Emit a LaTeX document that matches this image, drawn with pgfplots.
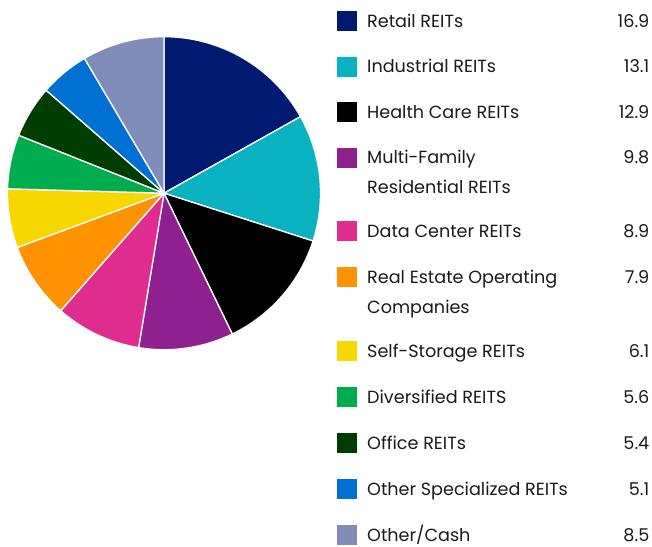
\documentclass[border=0pt]{standalone}
\usepackage{pgfplots}
\pgfplotsset{compat=1.18}
\usepackage{pgfplotstable}
\usepackage{fontspec}
\setmainfont{Poppins}
\definecolor{cRetail}{HTML}{001A72}
\definecolor{cIndustrial}{HTML}{0AB2C1}
\definecolor{cHealth}{HTML}{000000}
\definecolor{cMulti}{HTML}{8E2090}
\definecolor{cData}{HTML}{DE2D8E}
\definecolor{cREOC}{HTML}{FF9200}
\definecolor{cSelf}{HTML}{F8D600}
\definecolor{cDiv}{HTML}{00AD4E}
\definecolor{cOffice}{HTML}{003D00}
\definecolor{cOtherSpec}{HTML}{0070D2}
\definecolor{cOther}{HTML}{7F8DB8}
\definecolor{txt}{HTML}{1A1A1A}

% value, colour, legend baseline (px from top)
\pgfplotstableread{
value color base
16.9 cRetail 27.5
13.1 cIndustrial 73
12.9 cHealth 118.5
9.8 cMulti 164
8.9 cData 237.5
7.9 cREOC 283.5
6.1 cSelf 357
5.6 cDiv 403
5.4 cOffice 449
5.1 cOtherSpec 495
8.5 cOther 541
}\piedata

% build the drawing commands from the table
\pgfplotstablegetrowsof{\piedata}
\pgfmathtruncatemacro{\nrows}{\pgfplotsretval-1}
\gdef\cum{0}
\gdef\slicecmds{}
\foreach \i in {0,...,\nrows}{%
  \pgfplotstablegetelem{\i}{value}\of{\piedata}\let\val\pgfplotsretval
  \pgfplotstablegetelem{\i}{color}\of{\piedata}\let\col\pgfplotsretval
  \pgfplotstablegetelem{\i}{base}\of{\piedata}\let\bs\pgfplotsretval
  \pgfmathsetmacro{\sa}{90-\cum*3.592814}%
  \pgfmathsetmacro{\sb}{90-(\cum+\val)*3.592814}%
  \pgfmathsetmacro{\sy}{546-\bs+6.2}%
  \pgfmathsetmacro{\ty}{546-\bs}%
  \xdef\slicecmds{\unexpanded\expandafter{\slicecmds}
    \noexpand\fill[overlay,fill=\col,draw=white,line width=1.3pt,line join=round]
      (axis cs:164,352.8) -- ([shift={(\sa:156.5pt)}]axis cs:164,352.8)
      arc[start angle=\sa,end angle=\sb,radius=156.5pt] -- cycle;
    \noexpand\fill[\col] ([shift={(-10pt,-10pt)}]axis cs:347,\sy) rectangle ([shift={(10pt,10pt)}]axis cs:347,\sy);
    \noexpand\node[anchor=base east,inner sep=0pt,text=txt,font=\noexpand\legfont]
      at (axis cs:649.5,\ty) {\val};
  }%
  \pgfmathsetmacro{\newcum}{\cum+\val}%
  \xdef\cum{\newcum}%
}
\newcommand\legfont{\fontsize{17.6}{22}\selectfont}

\begin{document}
\begin{tikzpicture}
\begin{axis}[x=1pt,y=1pt,xmin=0,xmax=652,ymin=0,ymax=546,
  scale only axis,hide axis,clip=false]
\slicecmds
\begin{scope}[every node/.style={anchor=base west,inner sep=0pt,text=txt,font=\legfont}]
\node at (axis cs:367,518.5) {Retail REITs};
\node at (axis cs:367,473) {Industrial REITs};
\node at (axis cs:367,427.5) {Health Care REITs};
\node at (axis cs:367,382) {Multi-Family};
\node at (axis cs:367,352) {Residential REITs};
\node at (axis cs:367,308.5) {Data Center REITs};
\node at (axis cs:367,262.5) {Real Estate Operating};
\node at (axis cs:367,232.5) {Companies};
\node at (axis cs:367,189) {Self-Storage REITs};
\node at (axis cs:367,143) {Diversified REITS};
\node at (axis cs:367,97) {Office REITs};
\node at (axis cs:367,51) {Other Specialized REITs};
\node at (axis cs:367,5) {Other/Cash};
\end{scope}
\end{axis}
\pgfresetboundingbox
\path (current axis.south west) rectangle (current axis.north east);
\end{tikzpicture}
\end{document}
